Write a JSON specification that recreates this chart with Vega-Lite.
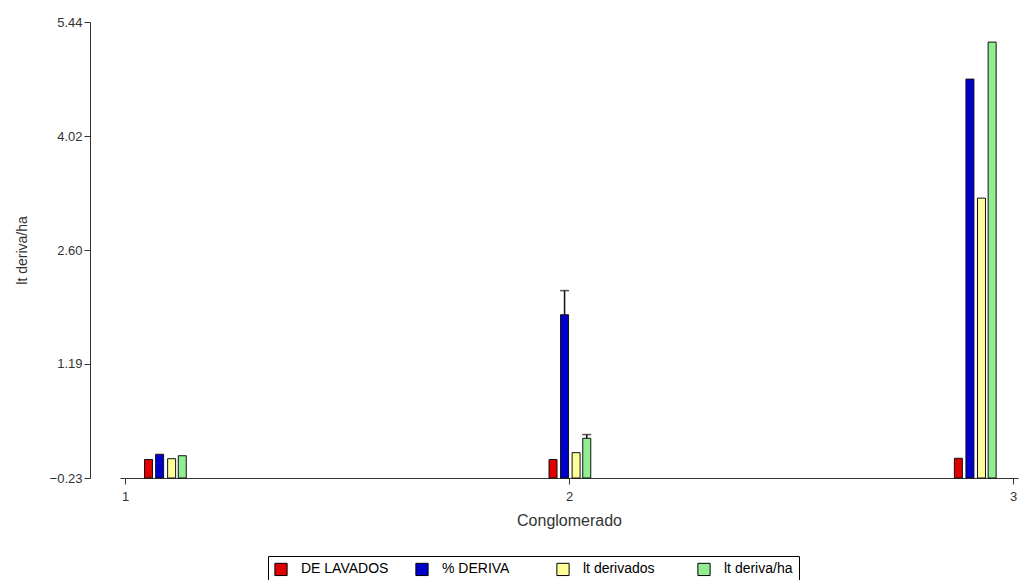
{
  "$schema": "https://vega.github.io/schema/vega-lite/v6.json",
  "autosize": {"type": "none"},
  "width": 898,
  "height": 456,
  "padding": {"left": 120, "top": 22, "right": 11, "bottom": 102},
  "background": "white",
  "config": {
    "font": "Liberation Sans",
    "view": {"stroke": null},
    "axis": {"grid": false, "domainColor": "#333", "tickColor": "#333", "labelColor": "#333", "titleColor": "#333", "labelFontSize": 13, "titleFontSize": 14, "titleFontWeight": "normal", "tickSize": 6, "labelOverlap": false, "labelFlush": false}
  },
  "data": {
    "values": [
      {"pos": 1.053, "series": "DE LAVADOS", "value": 0.0},
      {"pos": 1.078, "series": "% DERIVA", "value": 0.065},
      {"pos": 1.105, "series": "lt derivados", "value": 0.01},
      {"pos": 1.129, "series": "lt deriva/ha", "value": 0.047},
      {"pos": 1.964, "series": "DE LAVADOS", "value": 0.0},
      {"pos": 1.990, "series": "% DERIVA", "value": 1.80, "err": 2.10},
      {"pos": 2.016, "series": "lt derivados", "value": 0.085},
      {"pos": 2.040, "series": "lt deriva/ha", "value": 0.264, "err": 0.31},
      {"pos": 2.877, "series": "DE LAVADOS", "value": 0.015},
      {"pos": 2.903, "series": "% DERIVA", "value": 4.73},
      {"pos": 2.929, "series": "lt derivados", "value": 3.25},
      {"pos": 2.953, "series": "lt deriva/ha", "value": 5.19}
    ]
  },
  "layer": [
    {
      "mark": {"type": "bar", "size": 8, "stroke": "#111", "strokeWidth": 1},
      "encoding": {
        "x": {"field": "pos", "type": "quantitative", "scale": {"domain": [1, 3], "nice": false, "zero": false},
              "axis": {"values": [1, 2, 3], "labelExpr": "format(datum.value, 'd')", "title": "Conglomerado", "titleFontSize": 16, "labelPadding": 6, "titlePadding": 9}},
        "y": {"field": "value", "type": "quantitative", "scale": {"domain": [-0.23, 5.44], "nice": false, "zero": false},
              "axis": {"values": [-0.23, 1.19, 2.60, 4.02, 5.44], "format": ".2f", "title": "lt deriva/ha", "offset": 30, "labelPadding": 2, "titlePadding": 20}},
        "y2": {"datum": -0.23},
        "color": {"field": "series", "type": "nominal",
                  "scale": {"domain": ["DE LAVADOS", "% DERIVA", "lt derivados", "lt deriva/ha"], "range": ["#e00000", "#0000cc", "#ffff99", "#90ee90"]},
                  "legend": {"title": null, "orient": "none", "direction": "horizontal", "columns": 4, "gridAlign": "all", "legendX": 148, "legendY": 534,
                             "padding": 6, "strokeColor": "#000", "fillColor": "white", "symbolType": "square", "symbolSize": 150,
                             "symbolStrokeColor": "#000", "symbolStrokeWidth": 1, "symbolOpacity": 1, "labelFontSize": 14, "labelColor": "#000", "labelOffset": 13, "columnPadding": 24}}
      }
    },
    {
      "transform": [{"filter": "isValid(datum.err)"}],
      "mark": {"type": "rule", "color": "#111", "strokeWidth": 1.5},
      "encoding": {
        "x": {"field": "pos", "type": "quantitative"},
        "y": {"field": "value", "type": "quantitative"},
        "y2": {"field": "err"}
      }
    },
    {
      "transform": [{"filter": "isValid(datum.err)"}],
      "mark": {"type": "tick", "orient": "horizontal", "color": "#111", "size": 9, "thickness": 1.5},
      "encoding": {
        "x": {"field": "pos", "type": "quantitative"},
        "y": {"field": "err", "type": "quantitative"}
      }
    }
  ]
}
